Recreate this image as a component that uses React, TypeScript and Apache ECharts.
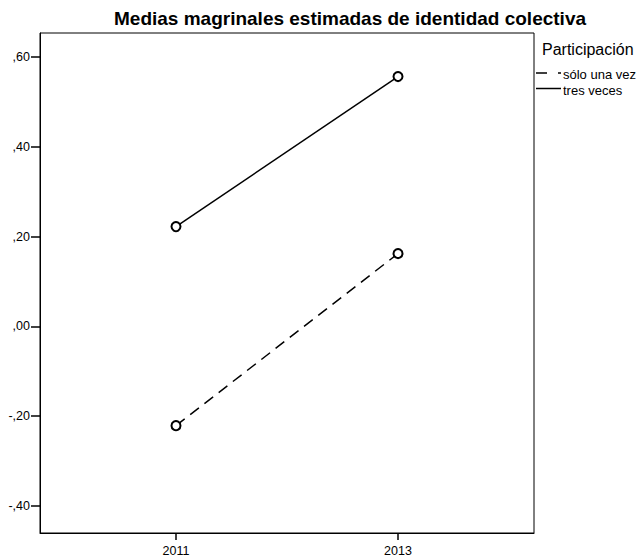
import React, { useEffect, useRef } from "react";
import * as echarts from "echarts";

const years = [2011, 2013];
const seriesNames = ["sólo una vez", "tres veces"];
const soloUnaVez = [-0.221, 0.162];
const tresVeces = [0.222, 0.556];
const yTicks = [-0.4, -0.2, 0, 0.2, 0.4, 0.6];
const titleText = "Medias magrinales estimadas de identidad colectiva";
const legendTitle = "Participación";

const FONT = "'Liberation Sans', Arial, sans-serif";

function fmt(v: number) {
  const s = Math.abs(v).toFixed(2).replace(/^0\./, ",");
  return v < 0 ? "-" + s : s;
}

export default function App() {
  const ref = useRef<HTMLDivElement>(null);
  useEffect(() => {
    if (!ref.current) return;
    const chart = echarts.init(ref.current, undefined, { renderer: "svg" });
    const dataOf = (vals: number[]) => years.map((y, i) => [y, vals[i]]);
    chart.setOption({
      animation: false,
      backgroundColor: "#fff",
      textStyle: { fontFamily: FONT },
      title: {
        text: titleText,
        left: 345,
        top: 4,
        textAlign: "center",
        textStyle: { fontFamily: FONT, fontSize: 19, fontWeight: "bold", color: "#000" },
      },
      grid: {
        left: 40,
        top: 33,
        right: 106,
        bottom: 23,
        show: true,
        borderColor: "#000",
        borderWidth: 1,
        backgroundColor: "transparent",
      },
      xAxis: {
        type: "value",
        min: 2009.775,
        max: 2014.225,
        axisLine: { show: true, onZero: false, lineStyle: { color: "#000", width: 1 } },
        splitLine: { show: false },
        axisTick: { show: true, customValues: years, length: 7, lineStyle: { color: "#000", width: 1.5 } },
        axisLabel: {
          customValues: years,
          formatter: (v: number) => String(v),
          color: "#000",
          fontSize: 12.5,
          margin: 11,
          fontFamily: FONT,
        },
      },
      yAxis: {
        type: "value",
        min: -0.46,
        max: 0.653,
        axisLine: { show: true, onZero: false, lineStyle: { color: "#000", width: 1 } },
        splitLine: { show: false },
        axisTick: { show: true, customValues: yTicks, length: 9, lineStyle: { color: "#000", width: 1.5 } },
        axisLabel: {
          customValues: yTicks,
          formatter: (v: number) => fmt(v),
          color: "#000",
          fontSize: 12.5,
          margin: 10,
          fontFamily: FONT,
        },
      },
      series: [
        {
          name: seriesNames[0],
          type: "line",
          data: dataOf(soloUnaVez),
          symbol: "emptyCircle",
          symbolSize: 9,
          itemStyle: { color: "#000", borderColor: "#000", borderWidth: 1 },
          lineStyle: { color: "#000", width: 1.5, type: [11, 7] },
        },
        {
          name: seriesNames[1],
          type: "line",
          data: dataOf(tresVeces),
          symbol: "emptyCircle",
          symbolSize: 9,
          itemStyle: { color: "#000", borderColor: "#000", borderWidth: 1 },
          lineStyle: { color: "#000", width: 1.5 },
        },
      ],
      graphic: [
        {
          type: "text",
          left: 542,
          top: 41,
          style: { text: legendTitle, font: `16px ${FONT}`, fill: "#000" },
        },
        {
          type: "line",
          shape: { x1: 536, y1: 73, x2: 561, y2: 73 },
          style: { stroke: "#000", lineWidth: 1.5, lineDash: [11, 11] },
        },
        {
          type: "text",
          left: 563,
          top: 68,
          style: { text: seriesNames[0], font: `13px ${FONT}`, fill: "#000" },
        },
        {
          type: "line",
          shape: { x1: 536, y1: 88.5, x2: 561, y2: 88.5 },
          style: { stroke: "#000", lineWidth: 1.5 },
        },
        {
          type: "text",
          left: 563,
          top: 84,
          style: { text: seriesNames[1], font: `13px ${FONT}`, fill: "#000" },
        },
      ],
    });
    return () => chart.dispose();
  }, []);
  return <div ref={ref} style={{ width: 640, height: 557, position: "absolute", left: 0, top: 0 }} />;
}
